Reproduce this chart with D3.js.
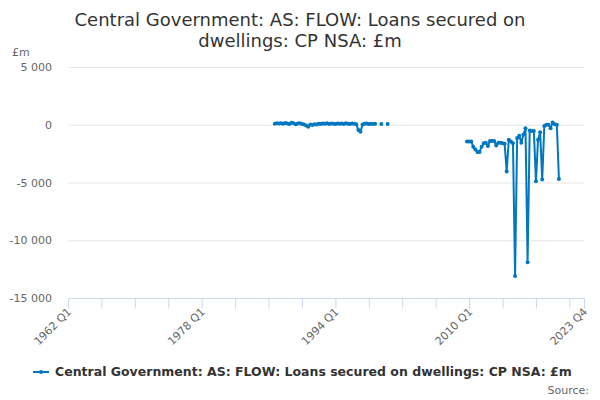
<!DOCTYPE html>
<html>
<head>
<meta charset="utf-8">
<script src="https://cdn.jsdelivr.net/npm/d3@7.9.0/dist/d3.min.js"></script>
<style>
  body { margin: 0; background: #fff; }
  svg { font-family: "DejaVu Sans", sans-serif; }
</style>
</head>
<body>
<svg id="chart" width="600" height="400"></svg>
<script>
// quarterly categories 1962 Q1 .. 2023 Q4
const firstYear = 1962;
const lastYear = 2023;
const quarters = [];
for (let y = firstYear; y <= lastYear; y++) {
  for (let q = 1; q <= 4; q++) quarters.push(`${y} Q${q}`);
}

// series values (£m), null = no data
const segment1Start = '1986 Q4';
const segment1Values = [
  80, 120, 100, 130, 90, 150, 110, 60, 180, 120,
  40, 100, 130, 70, 20, -60, -180, 30, -20, 50,
  20, 90, 60, 100, 80, 120, 70, 100, 90, 60,
  110, 80, 100, 70, 120, 90, 60, 100, 80, 50,
  -450, -600, 30, 80, 100, 60, 90, 70, 90,
  null, null, 60, null, null, 70,
];

const segment2Start = '2009 Q4';
const segment2Values = [
  -1450, -1450, -1450, -1900, -2150, -2350, -2350, -1900, -1600, -1550,
  -1850, -1400, -1400, -1400, -1800, -1550, -1550, -1600, -1650, -4050,
  -1300, -1450, -1600, -13100, -1150, -950, -1550, -850, -300, -11900,
  -500, -550, -550, -4900, -1300, -650, -4750, -100, 0, 0,
  -300, 200, 50, 0, -4700,
];

const yTicks = [5000, 0, -5000, -10000, -15000];
const xLabelTicks = ['1962 Q1', '1978 Q1', '1994 Q1', '2010 Q1', '2023 Q4'];

const seriesName = 'Central Government: AS: FLOW: Loans secured on dwellings: CP NSA: £m';
const color = '#0077c0';

function toPoints(start, values) {
  const i0 = quarters.indexOf(start);
  return values.map((v, i) => ({ i: i0 + i, value: v }));
}
const points = toPoints(segment1Start, segment1Values)
  .concat(toPoints(segment2Start, segment2Values))
  .sort((a, b) => a.i - b.i);
// keep the break between the two segments
const seriesData = [];
points.forEach((p) => {
  const prev = seriesData[seriesData.length - 1];
  if (prev && p.i - prev.i > 1) seriesData.push({ i: prev.i + 1, value: null });
  seriesData.push(p);
});

const svg = d3.select('#chart');
const margin = { left: 68, right: 16, top: 67, bottom: 102 };
const width = 600, height = 400;

const x = d3.scaleLinear()
  .domain([0, quarters.length - 1])
  .range([margin.left, width - margin.right]);
const y = d3.scaleLinear()
  .domain([-15000, 5000])
  .range([height - margin.bottom, margin.top]);

const fmt = (v) => d3.format(',')(v).replace(/,/g, ' ').replace('−', '-');

// title
svg.append('text')
  .attr('x', 300).attr('y', 26)
  .attr('text-anchor', 'middle')
  .attr('font-size', 18)
  .attr('fill', '#333')
  .selectAll('tspan')
  .data(['Central Government: AS: FLOW: Loans secured on', 'dwellings: CP NSA: £m'])
  .join('tspan')
  .attr('x', 300)
  .attr('dy', (_d, i) => (i === 0 ? 0 : 21))
  .text((d) => d);

// unit label
svg.append('text')
  .attr('x', 12).attr('y', 56)
  .attr('font-size', 11)
  .attr('fill', '#666')
  .text('£m');

// grid + y labels
const yAxis = svg.append('g');
yAxis.selectAll('line')
  .data(yTicks)
  .join('line')
  .attr('x1', margin.left).attr('x2', width - margin.right)
  .attr('y1', (d) => y(d) + 0.5).attr('y2', (d) => y(d) + 0.5)
  .attr('stroke', '#e6e6e6');
yAxis.selectAll('text')
  .data(yTicks)
  .join('text')
  .attr('x', 52)
  .attr('y', (d) => y(d) + 4)
  .attr('text-anchor', 'end')
  .attr('font-size', 11)
  .attr('fill', '#666')
  .text(fmt);

// x axis
const xAxis = svg.append('g');
const baseY = y(-15000) + 0.5;
xAxis.append('line')
  .attr('x1', margin.left).attr('x2', width - margin.right)
  .attr('y1', baseY).attr('y2', baseY)
  .attr('stroke', '#ccd6eb');
const tickIdx = d3.range(0, quarters.length, 16).concat([quarters.length - 1]);
xAxis.selectAll('line.tick')
  .data(tickIdx)
  .join('line')
  .attr('class', 'tick')
  .attr('x1', (d) => x(d) + 0.5).attr('x2', (d) => x(d) + 0.5)
  .attr('y1', baseY).attr('y2', baseY + 10)
  .attr('stroke', '#ccd6eb');
xAxis.selectAll('text')
  .data(xLabelTicks)
  .join('text')
  .attr('transform', (d) => `translate(${x(quarters.indexOf(d)) + 4},${baseY + 14}) rotate(-45)`)
  .attr('text-anchor', 'end')
  .attr('font-size', 11)
  .attr('fill', '#666')
  .text((d) => d);

// series
const line = d3.line()
  .defined((d) => d.value !== null)
  .x((d) => x(d.i))
  .y((d) => y(d.value));

svg.append('path')
  .datum(seriesData)
  .attr('fill', 'none')
  .attr('stroke', color)
  .attr('stroke-width', 2)
  .attr('stroke-linejoin', 'round')
  .attr('d', line);

svg.append('g')
  .selectAll('circle')
  .data(seriesData.filter((d) => d.value !== null))
  .join('circle')
  .attr('cx', (d) => x(d.i))
  .attr('cy', (d) => y(d.value))
  .attr('r', 2)
  .attr('fill', color);

// legend
const legend = svg.append('g').attr('transform', 'translate(33,376)');
legend.append('line')
  .attr('x1', 0).attr('x2', 16).attr('y1', -4).attr('y2', -4)
  .attr('stroke', color).attr('stroke-width', 2);
legend.append('circle')
  .attr('cx', 8).attr('cy', -4).attr('r', 2).attr('fill', color);
legend.append('text')
  .attr('x', 22).attr('y', 0)
  .attr('font-size', 12.5)
  .attr('font-weight', 'bold')
  .attr('fill', '#333')
  .text(seriesName);

svg.append('text')
  .attr('x', 589).attr('y', 394)
  .attr('text-anchor', 'end')
  .attr('font-size', 11)
  .attr('fill', '#666')
  .text('Source:');
</script>
</body>
</html>
